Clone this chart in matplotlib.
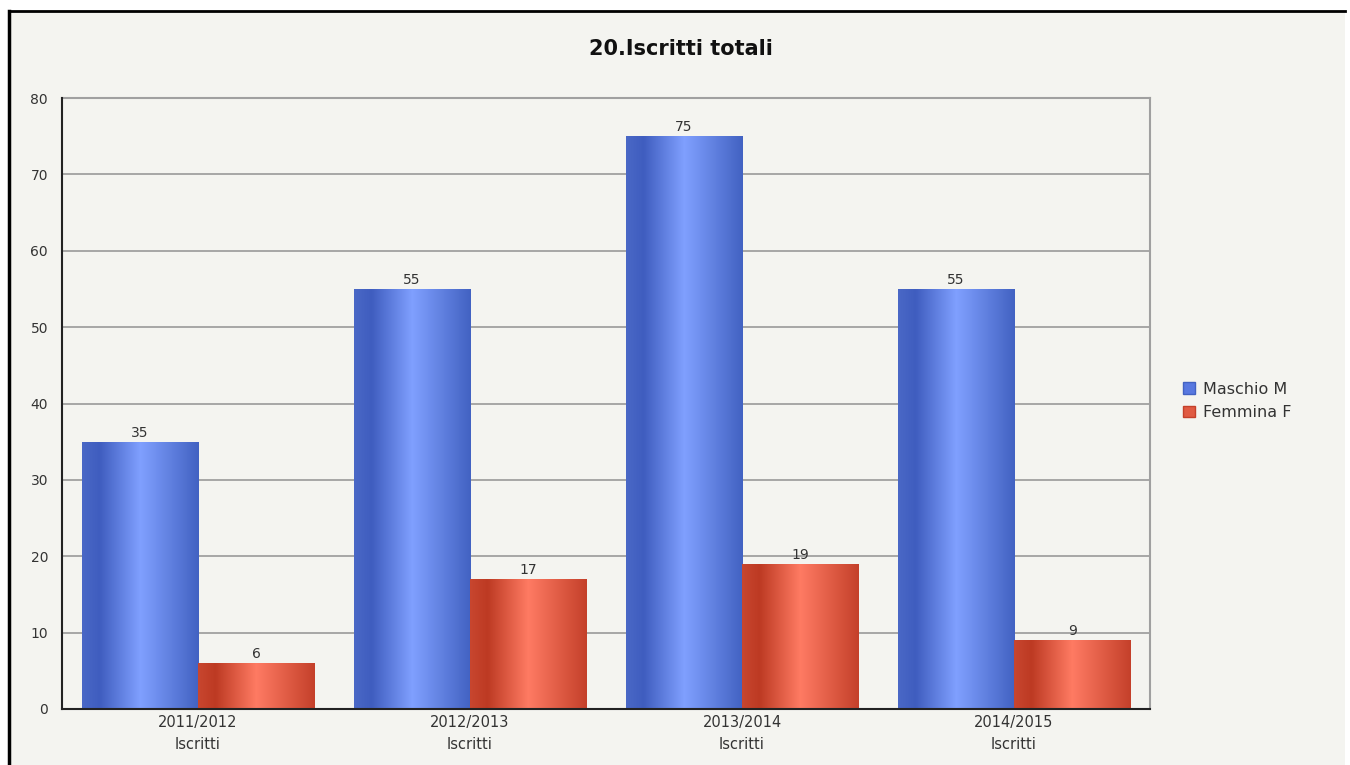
"""Grouped bar chart of total enrolments by year and gender."""

import matplotlib
matplotlib.use('Agg')
import matplotlib.pyplot as plt
import numpy as np
from matplotlib.colors import LinearSegmentedColormap
from matplotlib.lines import Line2D
from matplotlib.patches import Patch

plt.rcParams['font.family'] = ['DejaVu Sans']

years = ['2011/2012', '2012/2013', '2013/2014', '2014/2015']
sub_label = 'Iscritti'
maschi = [35, 55, 75, 55]
femmine = [6, 17, 19, 9]
series_names = ['Maschio M', 'Femmina F']

BG = '#f4f4f0'
TEXT = '#333333'

# horizontal shading: dark edges, bright centre
blue_cmap = LinearSegmentedColormap.from_list(
    'blue_bar', [(0, '#4a68c6'), (0.15, '#3f5dbf'), (0.5, '#80a0ff'), (1.0, '#4262c2')])
red_cmap = LinearSegmentedColormap.from_list(
    'red_bar', [(0, '#c8462f'), (0.15, '#bd3a23'), (0.5, '#ff7b63'), (1.0, '#c4402a')])

fig = plt.figure(figsize=(13.5, 7.65), dpi=100, facecolor='white')

# panel background with frame on top and left
fig.patches.append(plt.Rectangle((9 / 1350, 0), (1345 - 9) / 1350, 1 - 11 / 765,
                                 transform=fig.transFigure, facecolor=BG,
                                 edgecolor='none', zorder=-10))
fig.lines.append(Line2D([9 / 1350, 9 / 1350], [0, 1 - 11 / 765], transform=fig.transFigure,
                        color='black', linewidth=2.5, zorder=-5))
fig.lines.append(Line2D([9 / 1350, 1345 / 1350], [1 - 11 / 765, 1 - 11 / 765],
                        transform=fig.transFigure, color='black', linewidth=2, zorder=-5))

ax = fig.add_axes([62 / 1350, 1 - 709 / 765, (1150 - 62) / 1350, (709 - 98) / 765])
ax.set_facecolor(BG)

x = np.arange(len(years))
width = 0.427

bars_m = ax.bar(x - width / 2, maschi, width, facecolor='none', edgecolor='none', zorder=3)
bars_f = ax.bar(x + width / 2, femmine, width, facecolor='none', edgecolor='none', zorder=3)

grad = np.linspace(0, 1, 256).reshape(1, -1)
for bars, cmap in ((bars_m, blue_cmap), (bars_f, red_cmap)):
    for rect in bars:
        x0, y0 = rect.get_x(), rect.get_y()
        w, h = rect.get_width(), rect.get_height()
        im = ax.imshow(grad, cmap=cmap, aspect='auto', extent=(x0, x0 + w, y0, y0 + h),
                       interpolation='bicubic', zorder=3)
        im.set_clip_path(rect)
    for rect in bars:
        val = rect.get_height()
        ax.annotate(f'{val:g}', (rect.get_x() + rect.get_width() / 2, val),
                    xytext=(0, 1.5), textcoords='offset points', ha='center', va='bottom',
                    fontsize=10, color=TEXT, zorder=4)

ax.set_xlim(-0.5, len(years) - 0.5)
ax.set_ylim(0, 80)
ax.set_yticks(range(0, 81, 10))
ax.set_xticks(x)
ax.set_xticklabels([f'{y}\n{sub_label}' for y in years], fontsize=10.5, color=TEXT,
                   linespacing=1.6)
ax.tick_params(axis='y', length=0, pad=10, labelsize=10, labelcolor=TEXT)
ax.tick_params(axis='x', length=0, pad=4)

ax.yaxis.grid(True, color='#a0a0a0', linewidth=1.3, zorder=1)
ax.set_axisbelow(True)

for side in ('top', 'right'):
    ax.spines[side].set_color('#a0a0a0')
    ax.spines[side].set_linewidth(1.5)
for side in ('left', 'bottom'):
    ax.spines[side].set_color('#222222')
    ax.spines[side].set_linewidth(1.5)
    ax.spines[side].set_zorder(5)

fig.text(681 / 1350, 1 - 49 / 765, '20.Iscritti totali', ha='center', va='center',
         fontsize=15, fontweight='bold', color='#111111')

handles = [Patch(facecolor='#5878e0', edgecolor='#4262c2'),
           Patch(facecolor='#e05a42', edgecolor='#c4402a')]
fig.legend(handles, series_names, loc='center left',
           bbox_to_anchor=(1169 / 1350, 1 - 401 / 765), frameon=False,
           fontsize=11.5, labelcolor=TEXT, handlelength=0.7, handleheight=0.7,
           handletextpad=0.5, labelspacing=0.55)

fig.savefig('out.png', dpi=100, facecolor='white')
